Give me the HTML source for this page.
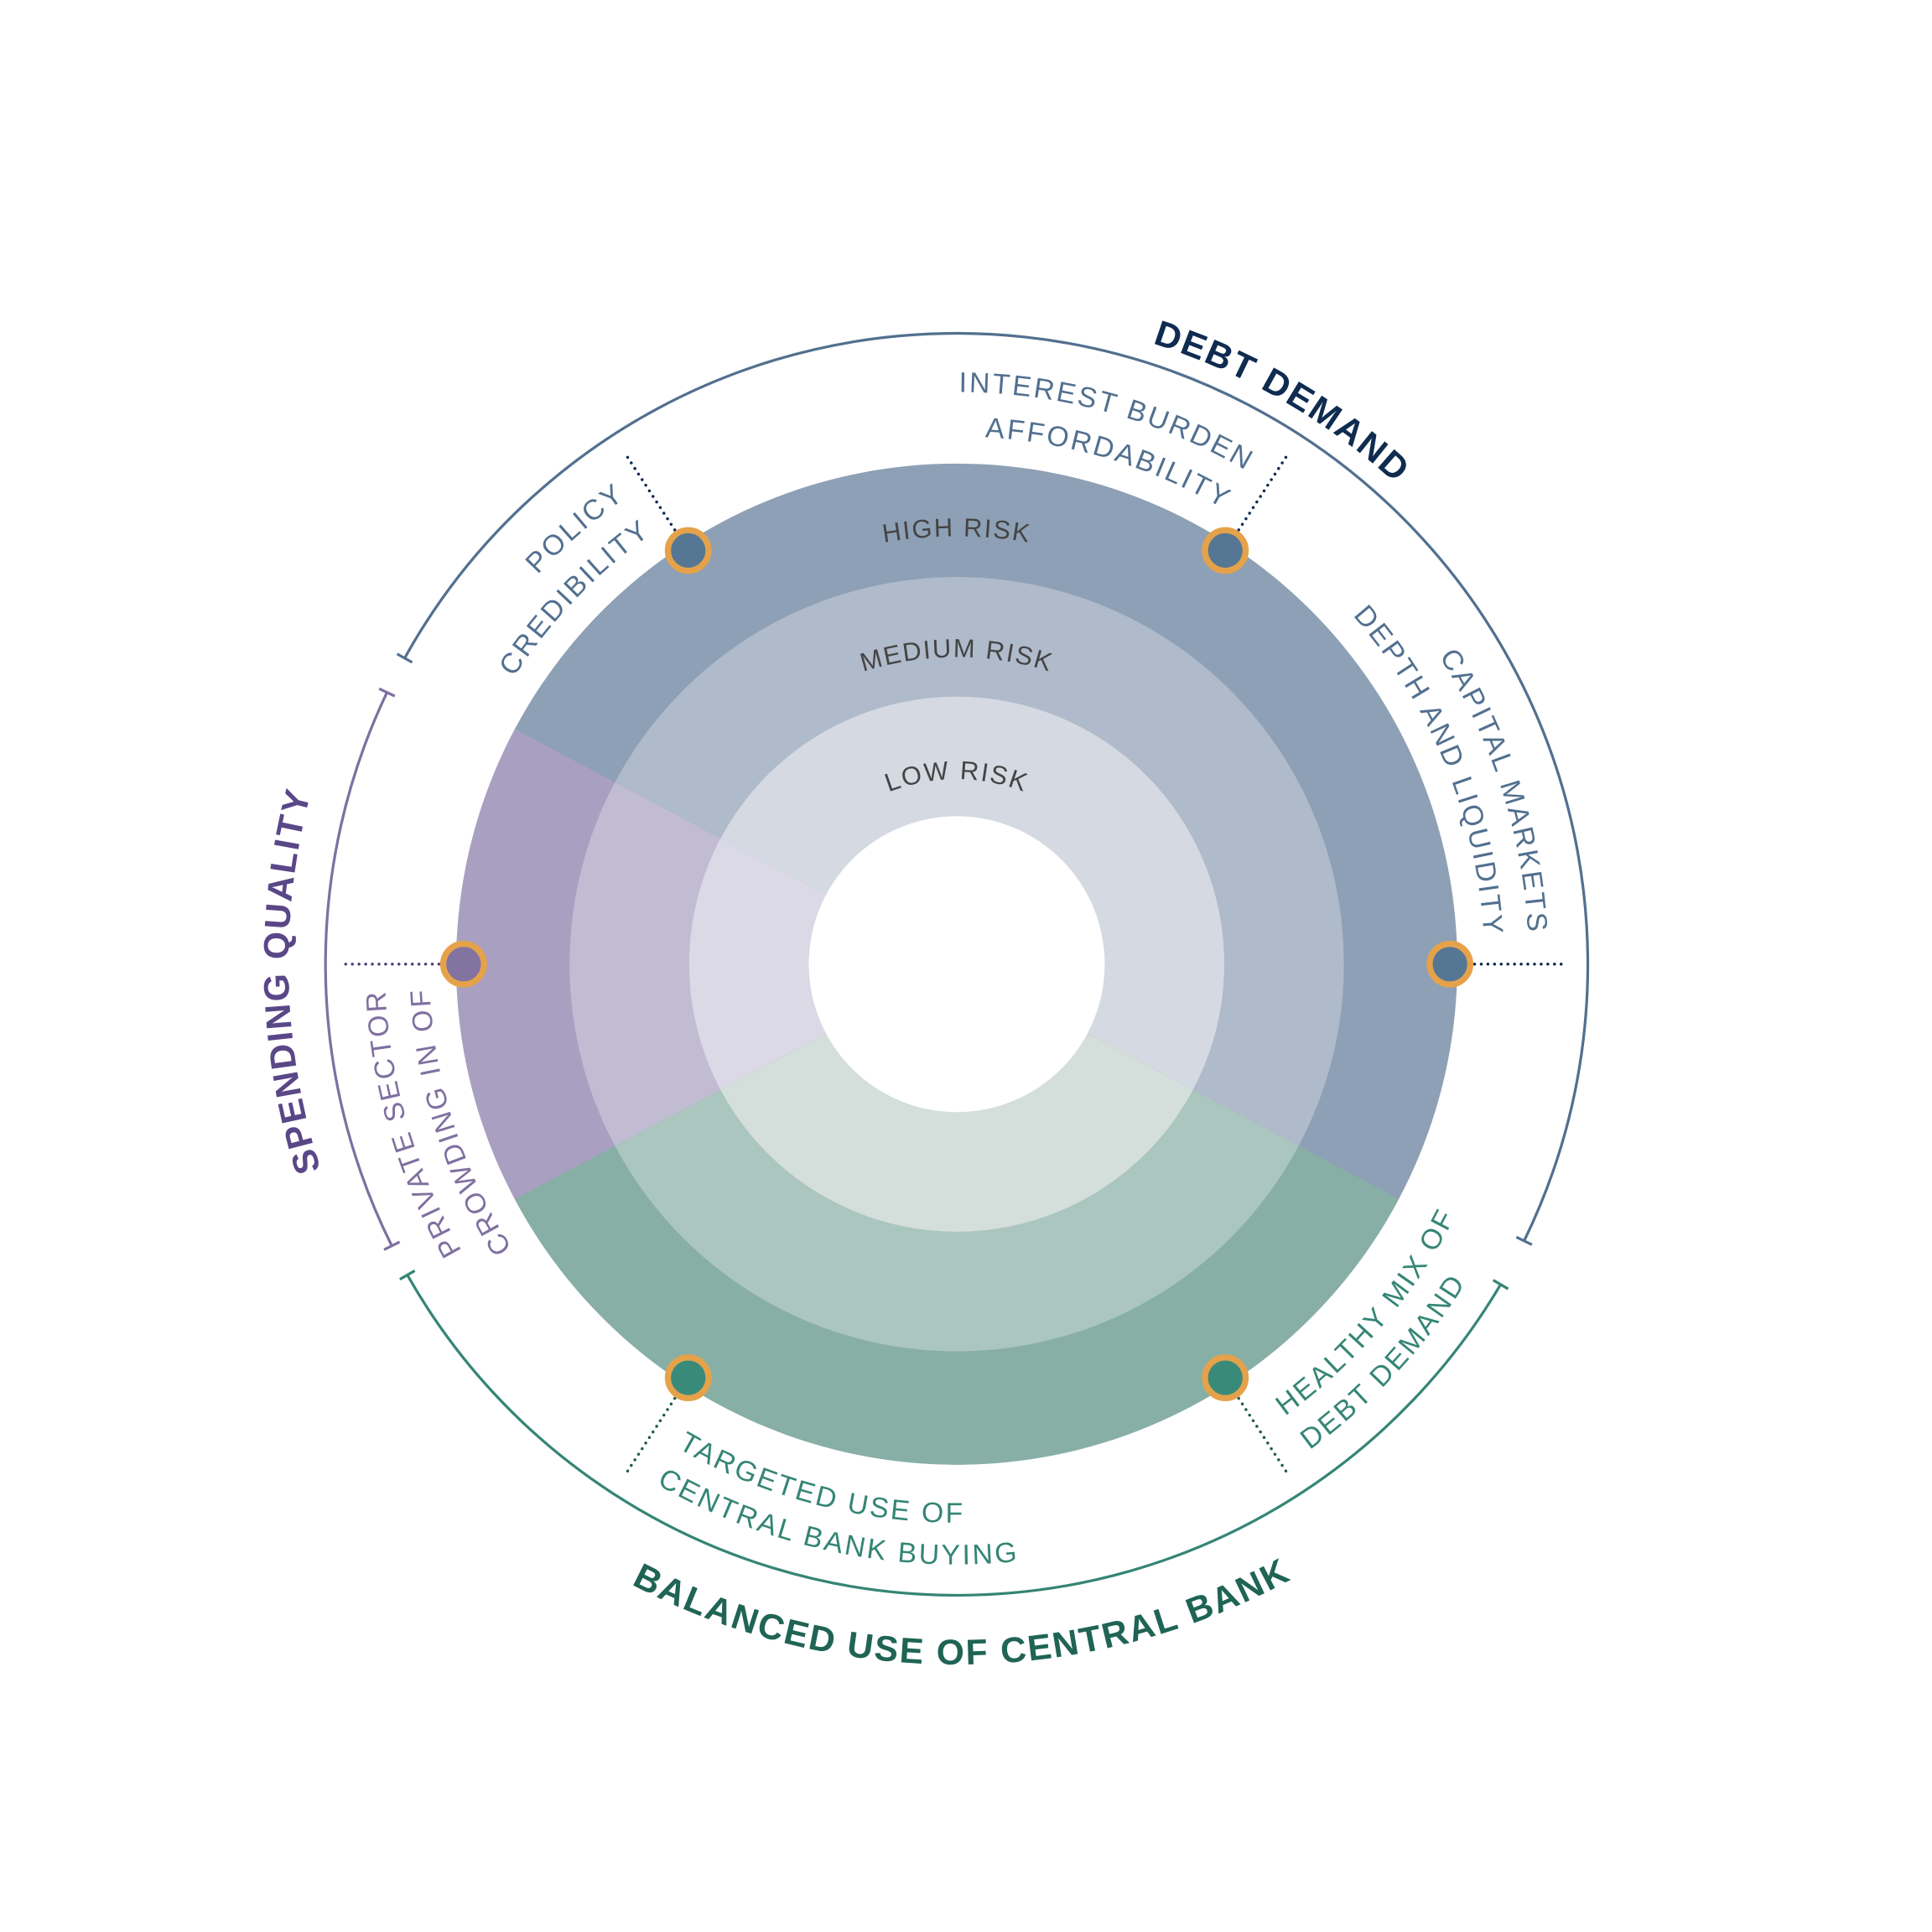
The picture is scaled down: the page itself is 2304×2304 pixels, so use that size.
<!DOCTYPE html>
<html><head><meta charset="utf-8"><style>
html,body{margin:0;padding:0;background:#fff;}
svg{display:block;}
text{font-family:"Liberation Sans",sans-serif;}
</style></head><body>
<svg width="2304" height="2304" viewBox="0 0 1567 1567" xmlns="http://www.w3.org/2000/svg">
<defs>
<clipPath id="cp"><polygon points="776,782 -107,312.5 -107,1251.5"/></clipPath>
<clipPath id="cg"><polygon points="776,782 -107,1251.5 776,1782 1659,1251.5"/></clipPath>
<path id="pol1" d="M818.9,1244 A464,464 0 0 1 507.9,403.3"/>
<path id="pol2" d="M815.5,1208.2 A428,428 0 0 1 528.7,432.7"/>
<path id="int1" d="M372.1,1010.5 A464,464 0 0 1 1011.5,382.2"/>
<path id="int2" d="M403.5,992.7 A428,428 0 0 1 993.2,413.2"/>
<path id="cap1" d="M362.6,571.3 A464,464 0 0 1 1239.4,757.7"/>
<path id="cap2" d="M394.7,587.7 A428,428 0 0 1 1203.4,759.6"/>
<path id="pri1" d="M1187.6,996.2 A464,464 0 0 1 312.5,802.2"/>
<path id="pri2" d="M1155.6,979.6 A428,428 0 0 1 348.4,800.7"/>
<path id="tar1" d="M549.5,1174.3 A453,453 0 0 0 1168.3,555.5"/>
<path id="tar2" d="M532.5,1203.7 A487,487 0 0 0 1197.7,538.5"/>
<path id="hea1" d="M1042.3,1148.5 A453,453 0 0 0 728.7,331.5"/>
<path id="hea2" d="M1062.3,1176 A487,487 0 0 0 725.1,297.7"/>
<path id="rh" d="M715.8,1123.7 A347,347 0 1 1 836.2,1123.7"/>
<path id="rm" d="M732.8,1027.2 A249,249 0 1 1 819.2,1027.2"/>
<path id="rl" d="M750,929.7 A150,150 0 1 1 802,929.7"/>
<path id="dd" d="M436.6,1186.5 A528,528 0 1 1 595.4,1278.2"/>
<path id="sq" d="M1312,862.1 A542,542 0 1 1 1307.1,673.9"/>
<path id="bu" d="M672.5,223.5 A568,568 0 1 0 869.7,221.8"/>
</defs>

<circle cx="776" cy="782" r="406" fill="#8EA0B5"/>
<circle cx="776" cy="782" r="314" fill="#AFBACA"/>
<circle cx="776" cy="782" r="217" fill="#D4D9E2"/>
<g clip-path="url(#cp)">
<circle cx="776" cy="782" r="406" fill="#A9A0C1"/>
<circle cx="776" cy="782" r="314" fill="#C2BCD3"/>
<circle cx="776" cy="782" r="217" fill="#DCD9E6"/>
</g>
<g clip-path="url(#cg)">
<circle cx="776" cy="782" r="406" fill="#88AFA6"/>
<circle cx="776" cy="782" r="314" fill="#ABC5BF"/>
<circle cx="776" cy="782" r="217" fill="#D4DEDA"/>
</g>
<circle cx="776" cy="782" r="120" fill="#fff"/>

<g fill="none" stroke-width="2.2">
<g stroke="#52708F">
<path d="M328.2,533.8 A512,512 0 0 1 1236.2,1006.4"/>
<line x1="334.3" y1="537.2" x2="322.1" y2="530.4"/>
<line x1="1229.9" y1="1003.4" x2="1242.5" y2="1009.5"/>
</g>
<g stroke="#7F70A0">
<path d="M317.8,1010.5 A512,512 0 0 1 313.9,561.6"/>
<line x1="320.2" y1="564.6" x2="307.5" y2="558.6"/>
<line x1="324.1" y1="1007.3" x2="311.5" y2="1013.6"/>
</g>
<g stroke="#358575">
<path d="M330.4,1034.1 A512,512 0 0 0 1217.1,1041.8"/>
<line x1="336.4" y1="1030.7" x2="324.3" y2="1037.6"/>
<line x1="1211.1" y1="1038.3" x2="1223.2" y2="1045.4"/>
</g>
</g>

<g fill="none" stroke-width="2.4" stroke-linecap="round" stroke-dasharray="0 5.4">
<line x1="1196" y1="782" x2="1271" y2="782" stroke="#0F2B50"/>
<line x1="1004.7" y1="429.8" x2="1045.6" y2="366.8" stroke="#0F2B50"/>
<line x1="547.3" y1="429.8" x2="506.4" y2="366.8" stroke="#0F2B50"/>
<line x1="356" y1="782" x2="279" y2="782" stroke="#4F3F7A"/>
<line x1="547.3" y1="1134.2" x2="506.4" y2="1197.2" stroke="#1F5A4E"/>
<line x1="1004.7" y1="1134.2" x2="1045.6" y2="1197.2" stroke="#1F5A4E"/>
</g>

<g stroke="#E5A24A" stroke-width="5">
<circle cx="1176" cy="782" r="16.5" fill="#557794"/>
<circle cx="993.8" cy="446.5" r="16.5" fill="#557794"/>
<circle cx="558.2" cy="446.5" r="16.5" fill="#557794"/>
<circle cx="376" cy="782" r="16.5" fill="#8273A0"/>
<circle cx="558.2" cy="1117.5" r="16.5" fill="#3A8A7A"/>
<circle cx="993.8" cy="1117.5" r="16.5" fill="#3A8A7A"/>
</g>

<g font-size="21" fill="#444" letter-spacing="1.3" text-anchor="middle">
<text><textPath href="#rh" startOffset="50%">HIGH RISK</textPath></text>
<text><textPath href="#rm" startOffset="50%">MEDIUM RISK</textPath></text>
<text><textPath href="#rl" startOffset="50%">LOW RISK</textPath></text>
</g>

<g font-size="23" letter-spacing="1.9">
<g fill="#52708F" text-anchor="end">
<text><textPath href="#pol1" startOffset="100%">POLICY</textPath></text>
<text><textPath href="#pol2" startOffset="100%">CREDIBILITY</textPath></text>
<text><textPath href="#int1" startOffset="100%">INTEREST BURDEN</textPath></text>
<text><textPath href="#int2" startOffset="100%">AFFORDABILITY</textPath></text>
<text><textPath href="#cap1" startOffset="100%">CAPITAL MARKETS</textPath></text>
<text><textPath href="#cap2" startOffset="100%">DEPTH AND LIQUIDITY</textPath></text>
</g>
<g fill="#7F70A0" text-anchor="end">
<text><textPath href="#pri1" startOffset="100%">PRIVATE SECTOR</textPath></text>
<text><textPath href="#pri2" startOffset="100%">CROWDING IN OF</textPath></text>
</g>
<g fill="#358575">
<text><textPath href="#tar1">TARGETED USE OF</textPath></text>
<text><textPath href="#tar2">CENTRAL BANK BUYING</textPath></text>
<text><textPath href="#hea1">HEALTHY MIX OF</textPath></text>
<text><textPath href="#hea2">DEBT DEMAND</textPath></text>
</g>
</g>

<g font-size="29" font-weight="bold" letter-spacing="1.5" text-anchor="middle">
<text fill="#0F2B50"><textPath href="#dd" startOffset="50%">DEBT DEMAND</textPath></text>
<text fill="#5A4787"><textPath href="#sq" startOffset="50%">SPENDING QUALITY</textPath></text>
<text fill="#1F6455"><textPath href="#bu" startOffset="50%">BALANCED USE OF CENTRAL BANK</textPath></text>
</g>
</svg>
</body></html>
